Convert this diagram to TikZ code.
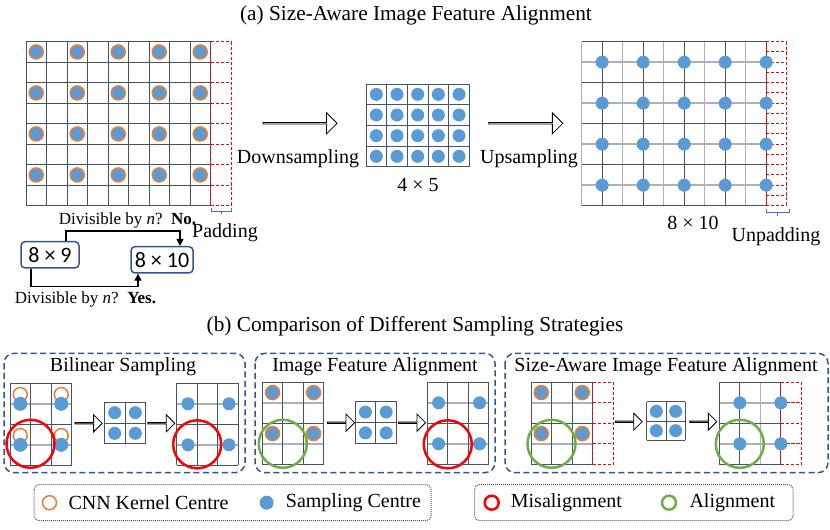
\documentclass[tikz,border=0pt]{standalone}
\usepackage{fontspec}
\setmainfont{Liberation Serif}
\newfontfamily\calibrifont{Carlito}
\usetikzlibrary{shapes.arrows,arrows.meta}
\definecolor{gdarkc}{HTML}{44546A}
\definecolor{ggrayc}{HTML}{A9B1BD}
\definecolor{dotc}{HTML}{5B9BD5}
\definecolor{ringc}{HTML}{ED7D31}
\definecolor{redc}{HTML}{FF0000}
\definecolor{greenc}{HTML}{70AD47}
\definecolor{panelc}{HTML}{2F5597}
\definecolor{bracec}{HTML}{4472C4}
\definecolor{legc}{HTML}{595959}
\begin{document}
\begin{tikzpicture}[x=1pt,y=-1pt,
  gdark/.style={draw=gdarkc, line width=1pt},
  ggray/.style={draw=ggrayc, line width=1.5pt},
  pad/.style={draw=redc, line width=1pt, dash pattern=on 3pt off 2pt},
  ring/.style={draw=ringc, line width=1.5pt},
  sdot/.style={fill=dotc},
  bigarrow/.style={single arrow, draw=black, fill=white, line width=0.8pt, minimum height=74pt, minimum width=21pt, single arrow head extend=5.5pt, single arrow head indent=0pt, inner sep=0pt},
  smallarrow/.style={single arrow, draw=black, fill=white, line width=0.8pt, minimum height=27pt, minimum width=17pt, single arrow head extend=4.5pt, single arrow head indent=0pt, inner sep=0pt},
  txt/.style={font=\fontsize{20}{24}\selectfont, inner sep=0pt},
  titletxt/.style={font=\fontsize{21.3}{25}\selectfont, inner sep=0pt},
  smalltxt/.style={font=\fontsize{17}{20}\selectfont, inner sep=0pt},
  numbox/.style={draw=panelc, line width=1.5pt, rounded corners=4pt, minimum height=26.3pt, inner sep=0pt, font=\calibrifont\fontsize{22}{24}\selectfont},
  flow/.style={draw=black, line width=1.2pt, -{Triangle[length=7pt,width=7pt]}},
  panel/.style={draw=panelc, line width=1.5pt, dash pattern=on 6pt off 3.5pt, rounded corners=10pt},
  legbox/.style={draw=legc, line width=1pt, densely dotted, rounded corners=5pt},
  misc/.style={draw=redc, line width=2.5pt},
  alc/.style={draw=greenc, line width=2.5pt},
  bracest/.style={draw=bracec, line width=1pt}
]
\useasboundingbox (0,0) rectangle (830,530);

% ---------- titles ----------
\node[titletxt] (ta) at (416,15) {(a) Size-Aware Image Feature Alignment};
\node[titletxt] (tb) at (415,326) {(b) Comparison of Different Sampling Strategies};

% ---------- top-left grid 8x9 ----------
\foreach \i in {0,...,9} \draw[gdark] ({26+\i*20.5},41.7) -- ({26+\i*20.5},205.7);
\foreach \j in {0,...,8} \draw[gdark] (26,{41.7+\j*20.5}) -- (210.5,{41.7+\j*20.5});
\draw[pad] (210.5,41.7) -- (210.5,205.7);
\draw[pad] (231,41.7) -- (231,205.7);
\foreach \j in {0,...,8} \draw[pad] (210.5,{41.7+\j*20.5}) -- (231,{41.7+\j*20.5});
\foreach \i in {0,2,4,6,8} \foreach \j in {0,2,4,6}
  \draw[ring, fill=dotc] ({26+(\i+0.5)*20.5},{41.7+(\j+0.5)*20.5}) circle[radius=7pt];
\draw[bracest] (211,208) -- (211,211) -- (231.5,211) -- (231.5,208);
\draw[bracest] (221.2,211) -- (221.2,214);

% ---------- top middle grid 4x5 ----------
\foreach \i in {0,...,5} \draw[gdark] ({366+\i*20.67},84) -- ({366+\i*20.67},166.7);
\foreach \j in {0,...,4} \draw[gdark] (366,{84+\j*20.67}) -- (469.3,{84+\j*20.67});
\foreach \i in {0,...,4} \foreach \j in {0,...,3}
  \fill[sdot] ({366+(\i+0.5)*20.67},{84+(\j+0.5)*20.67}) circle[radius=6.5pt];

% ---------- top right grid 8x10 ----------
\foreach \i in {0,2,4,6,8} \draw[ggray] ({581.7+\i*20.5},41.7) -- ({581.7+\i*20.5},205.7);
\foreach \j in {1,3,5,7} \draw[ggray] (581.7,{41.7+\j*20.5}) -- (766.2,{41.7+\j*20.5});
\foreach \i in {1,3,5,7,9} \draw[gdark] ({581.7+\i*20.5},41.7) -- ({581.7+\i*20.5},205.7);
\foreach \j in {0,2,4,6,8} \draw[gdark] (581.7,{41.7+\j*20.5}) -- (766.2,{41.7+\j*20.5});
\draw[pad] (766.2,41.7) -- (766.2,205.7);
\draw[pad] (786.7,41.7) -- (786.7,205.7);
\foreach \j in {0,...,16} \draw[pad] (766.2,{41.7+\j*10.25}) -- (786.7,{41.7+\j*10.25});
\foreach \i in {1,3,5,7,9} \foreach \j in {1,3,5,7}
  \fill[sdot] ({581.7+\i*20.5},{41.7+\j*20.5}) circle[radius=6.5pt];
\draw[bracest] (766.5,209) -- (766.5,212) -- (789,212) -- (789,209);
\draw[bracest] (777.7,212) -- (777.7,216);

% ---------- top arrows and labels ----------
\node[bigarrow] (down) at (299.7,123.3) {};
\node[bigarrow] (up) at (525.5,123.3) {};
\node[txt] (ldown) at (298,158.3) {Downsampling};
\node[txt] (lup) at (529,158.3) {Upsampling};
\node[txt] (l45) at (418,185) {4 × 5};
\node[txt] (l810) at (693,222.7) {8 × 10};
\node[txt] (lunpad) at (776,236.7) {Unpadding};

% ---------- divisibility flow ----------
\node[numbox, minimum width=58pt] (n89) at (50,254.8) {8 × 9};
\node[numbox, minimum width=62pt] (n810) at (162,259.8) {8 × 10};
\draw[flow] ([xshift=16pt]n89.north) -- ++(0,-10) -| ([xshift=18pt]n810.north);
\draw[flow] ([xshift=-19pt]n89.south) -- ++(0,18) -| ([xshift=-24pt]n810.south);
\node[smalltxt] (qno) at (127.5,220) {Divisible by \textit{n}?\ \ \textbf{No.}};
\node[txt] (lpad) at (225,233) {Padding};
\node[smalltxt] (qyes) at (85.5,299) {Divisible by \textit{n}?\ \ \textbf{Yes.}};

% ---------- bottom panels ----------
\draw[panel] (4,353.3) rectangle (245,472.7);
\draw[panel] (255,353.3) rectangle (495,472.7);
\draw[panel] (505,353.3) rectangle (828,472.7);
\node[txt] (p1t) at (123,367) {Bilinear Sampling};
\node[txt] (p2t) at (375,366.5) {Image Feature Alignment};
\node[txt] (p3t) at (666,367) {Size-Aware Image Feature Alignment};

% 3x4 grids
\foreach \ox/\oy in {10/383.3, 176.7/383.3, 262.3/382.3, 427.3/382.3, 531/382.3}{
  \foreach \j in {1,3} \draw[ggray] (\ox,{\oy+\j*20.5}) -- ({\ox+61.5},{\oy+\j*20.5});
  \foreach \i in {0,...,3} \draw[gdark] ({\ox+\i*20.5},\oy) -- ({\ox+\i*20.5},{\oy+82});
  \foreach \j in {0,2,4} \draw[gdark] (\ox,{\oy+\j*20.5}) -- ({\ox+61.5},{\oy+\j*20.5});
}
% panel 3 right grid
\foreach \i in {0,2} \draw[ggray] ({719.3+\i*20.5},382.3) -- ({719.3+\i*20.5},464.3);
\foreach \j in {1,3} \draw[ggray] (719.3,{382.3+\j*20.5}) -- (780.8,{382.3+\j*20.5});
\foreach \i in {1,3} \draw[gdark] ({719.3+\i*20.5},382.3) -- ({719.3+\i*20.5},464.3);
\foreach \j in {0,2,4} \draw[gdark] (719.3,{382.3+\j*20.5}) -- (780.8,{382.3+\j*20.5});
\draw[gdark] (719.3,382.3) -- (719.3,464.3);
% padding columns
\draw[pad] (592.5,382.3) -- (592.5,464.3);
\draw[pad] (613,382.3) -- (613,464.3);
\foreach \j in {0,...,4} \draw[pad] (592.5,{382.3+\j*20.5}) -- (613,{382.3+\j*20.5});
\draw[pad] (780.8,382.3) -- (780.8,464.3);
\draw[pad] (801.3,382.3) -- (801.3,464.3);
\foreach \j in {0,...,4} \draw[pad] (780.8,{382.3+\j*20.5}) -- (801.3,{382.3+\j*20.5});
\foreach \j in {1,3} \draw[pad] (787,{382.3+\j*20.5}) -- (801.3,{382.3+\j*20.5});

% 2x2 grids
\foreach \ox/\oy/\c in {104.3/402.3/20.7, 355/401.7/20.8, 646.7/401.7/19.3}{
  \foreach \i in {0,1,2} \draw[gdark] ({\ox+\i*\c},\oy) -- ({\ox+\i*\c},{\oy+2*\c});
  \foreach \j in {0,1,2} \draw[gdark] (\ox,{\oy+\j*\c}) -- ({\ox+2*\c},{\oy+\j*\c});
  \foreach \a in {0,1} \foreach \b in {0,1}
    \fill[sdot] ({\ox+(\a+0.5)*\c},{\oy+(\b+0.5)*\c}) circle[radius=6.5pt];
}

% panel 1 dots
\foreach \a in {0,2} \foreach \b in {0,2}{
  \draw[ring] ({10+(\a+0.5)*20.5},{383.3+(\b+0.55)*20.5}) circle[radius=7pt];
  \fill[sdot] ({10+(\a+0.5)*20.5},{383.3+(\b+1)*20.5}) circle[radius=7pt];
  \fill[sdot] ({176.7+(\a+0.55)*20.5},{383.3+(\b+1)*20.5}) circle[radius=6.5pt];
}
% panel 2 dots
\foreach \a in {0,2} \foreach \b in {0,2}{
  \draw[ring, fill=dotc] ({262.3+(\a+0.5)*20.5},{382.3+(\b+0.5)*20.5}) circle[radius=7pt];
  \fill[sdot] ({427.3+(\a+0.55)*20.5},{382.3+(\b+1)*20.5}) circle[radius=6.5pt];
}
% panel 3 dots
\foreach \a in {0,2} \foreach \b in {0,2}{
  \draw[ring, fill=dotc] ({531+(\a+0.5)*20.5},{382.3+(\b+0.5)*20.5}) circle[radius=7pt];
  \fill[sdot] ({719.3+(\a+1)*20.5},{382.3+(\b+1)*20.5}) circle[radius=6.5pt];
}

% alignment circles
\draw[misc] (30.5,443.8) circle[radius=24pt];
\draw[misc] (197.2,444.3) circle[radius=24pt];
\draw[alc] (282.8,443.8) circle[radius=24pt];
\draw[misc] (447.8,444.3) circle[radius=24pt];
\draw[alc] (551.5,443.8) circle[radius=24pt];
\draw[alc] (739.8,443.8) circle[radius=24pt];

% small arrows
\node[smallarrow] (p1a) at (88.3,423.3) {};
\node[smallarrow] (p1b) at (161,423.3) {};
\node[smallarrow] (p2a) at (340.7,422.7) {};
\node[smallarrow] (p2b) at (411.7,422.7) {};
\node[smallarrow] (p3a) at (628.3,421.7) {};
\node[smallarrow] (p3b) at (703,421.7) {};

% ---------- legend ----------
\draw[legbox] (34,484.5) rectangle (431,520.7);
\draw[legbox] (474.5,484.5) rectangle (793,520.7);
\draw[ring] (49.5,502.7) circle[radius=7pt];
\node[txt, anchor=west] (lcnn) at (68.3,502.7) {CNN Kernel Centre};
\fill[sdot] (266.7,502.7) circle[radius=7pt];
\node[txt, anchor=west] (lsamp) at (285.7,502.7) {Sampling Centre};
\draw[misc] (491.7,502.7) circle[radius=7pt];
\node[txt, anchor=west] (lmis) at (510.7,502.7) {Misalignment};
\draw[alc] (669,502.7) circle[radius=7pt];
\node[txt, anchor=west] (lal) at (689.3,502.7) {Alignment};
\end{tikzpicture}
\end{document}
